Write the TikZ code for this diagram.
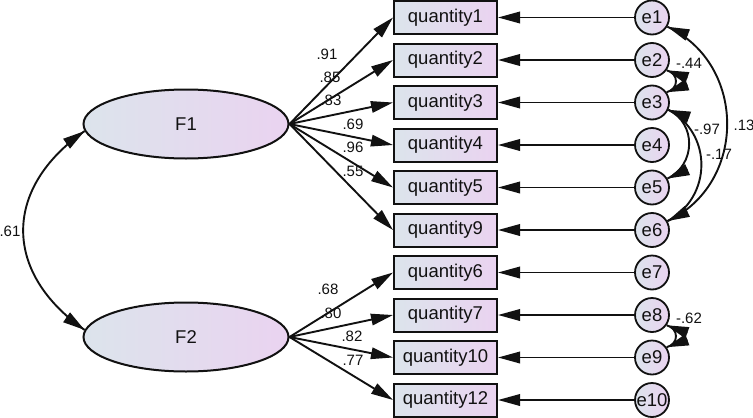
\documentclass[tikz,border=0pt]{standalone}
\usepackage{fontspec}
\setmainfont{Liberation Sans}
\usetikzlibrary{arrows.meta,shapes.geometric,calc}
\definecolor{shL}{HTML}{DCE4EC}
\definecolor{shR}{HTML}{EAD3F0}
\definecolor{ink}{HTML}{111111}
\begin{document}
\begin{tikzpicture}[x=1pt,y=1pt,
  big/.style={font=\fontsize{18.5}{20}\selectfont,text=ink},
  obs/.style={big,draw=ink,line width=2pt,left color=shL,right color=shR,minimum width=103pt,minimum height=33pt,inner sep=0pt},
  lat/.style={big,ellipse,draw=ink,line width=2pt,left color=shL,right color=shR,minimum width=205pt,minimum height=69pt,inner sep=0pt},
  err/.style={big,circle,draw=ink,line width=1.8pt,left color=shL,right color=shR,minimum size=34pt,inner sep=0pt},
  ld/.style={-{Triangle[length=22pt,width=11.5pt]},line width=1.9pt,draw=ink},
  arcline/.style={line width=1.9pt,draw=ink},
  lbl/.style={font=\fontsize{15}{16}\selectfont,inner sep=0pt,text=ink}
]
\useasboundingbox (0,0) rectangle (753,-418);

% latent variables
\node[lat] (F1) at (186,-124) {F1};
\node[lat] (F2) at (186,-337) {F2};

% observed variables
\node[obs] (q1)  at (445.5,-17.5) {quantity1};
\node[obs] (q2)  at (445.5,-60)   {quantity2};
\node[obs] (q3)  at (445.5,-102.5){quantity3};
\node[obs] (q4)  at (445.5,-145)  {quantity4};
\node[obs] (q5)  at (445.5,-187.5){quantity5};
\node[obs] (q9)  at (445.5,-230)  {quantity9};
\node[obs] (q6)  at (445.5,-272.5){quantity6};
\node[obs] (q7)  at (445.5,-315)  {quantity7};
\node[obs] (q10) at (445.5,-357.5){quantity10};
\node[obs] (q12) at (445.5,-400)  {quantity12};

% error terms
\node[err] (e1)  at (652,-17.5)  {e1};
\node[err] (e2)  at (652,-60)    {e2};
\node[err] (e3)  at (652,-102.5) {e3};
\node[err] (e4)  at (652,-145)   {e4};
\node[err] (e5)  at (652,-187.5) {e5};
\node[err] (e6)  at (652,-230)   {e6};
\node[err] (e7)  at (652,-272.5) {e7};
\node[err] (e8)  at (652,-315)   {e8};
\node[err] (e9)  at (652,-357.5) {e9};
\node[err] (e10) at (652,-400)   {e10};

% error paths
\foreach \e/\q in {e1/q1,e2/q2,e3/q3,e4/q4,e5/q5,e6/q9,e7/q6,e8/q7,e9/q10,e10/q12}
  \draw[ld] (\e) -- (\q);

% loadings
\foreach \q in {q1,q2,q3,q4,q5,q9}
  \draw[ld] (F1.east) -- (\q.west);
\foreach \q in {q6,q7,q10,q12}
  \draw[ld] (F2.east) -- (\q.west);

% loading labels
\node[lbl] (l1) at (327,-54)  {.91};
\node[lbl] (l2) at (330,-77.5){.85};
\node[lbl] (l3) at (331,-100) {.83};
\node[lbl] (l4) at (353,-124) {.69};
\node[lbl] (l5) at (353,-147) {.96};
\node[lbl] (l6) at (353,-171) {.55};
\node[lbl] (l7) at (328,-289) {.68};
\node[lbl] (l8) at (331,-313) {.80};
\node[lbl] (l9) at (352,-336) {.82};
\node[lbl] (l10) at (353,-360){.77};

% F1 <-> F2
\draw[arcline] (F1.184) to[out=215,in=145,looseness=1.29] (F2.176);
\draw[ld] ($(F1.184)+(215:22)$) -- (F1.184);
\draw[ld] ($(F2.176)+(145:22)$) -- (F2.176);
\node[lbl] (c0) at (10,-231) {.61};

% e2 <-> e3
\draw[arcline] (e2.-35) to[out=-15,in=15,looseness=1.5] (e3.35);
\draw[ld] ($(e2.-35)+(-20:22)$) -- (e2.-35);
\draw[ld] ($(e3.35)+(20:22)$) -- (e3.35);
\node[lbl] (c1) at (689,-63) {-.44};

% e3 <-> e5
\draw[arcline] (e3.-24) to[out=-26,in=26,looseness=1.17] (e5.30);
\draw[ld] ($(e3.-24)+(-20:22)$) -- (e3.-24);
\draw[ld] ($(e5.30)+(24:22)$) -- (e5.30);
\node[lbl] (c2) at (707,-129) {-.97};

% e3 <-> e6
\draw[arcline] (e3.-24) to[out=-28,in=28,looseness=1.16] (e6.30);
\draw[ld] ($(e6.30)+(26:22)$) -- (e6.30);
\node[lbl] (c3) at (719,-154) {-.17};

% e1 <-> e6
\draw[arcline] (e1.-31) to[out=-25,in=25,looseness=1.16] (e6.30);
\draw[ld] ($(e1.-31)+(-22:22)$) -- (e1.-31);
\node[lbl] (c4) at (744,-125) {.13};

% e8 <-> e9
\draw[arcline] (e8.-35) to[out=-15,in=15,looseness=1.5] (e9.35);
\draw[ld] ($(e8.-35)+(-20:22)$) -- (e8.-35);
\draw[ld] ($(e9.35)+(20:22)$) -- (e9.35);
\node[lbl] (c5) at (689,-318) {-.62};
\end{tikzpicture}
\end{document}
